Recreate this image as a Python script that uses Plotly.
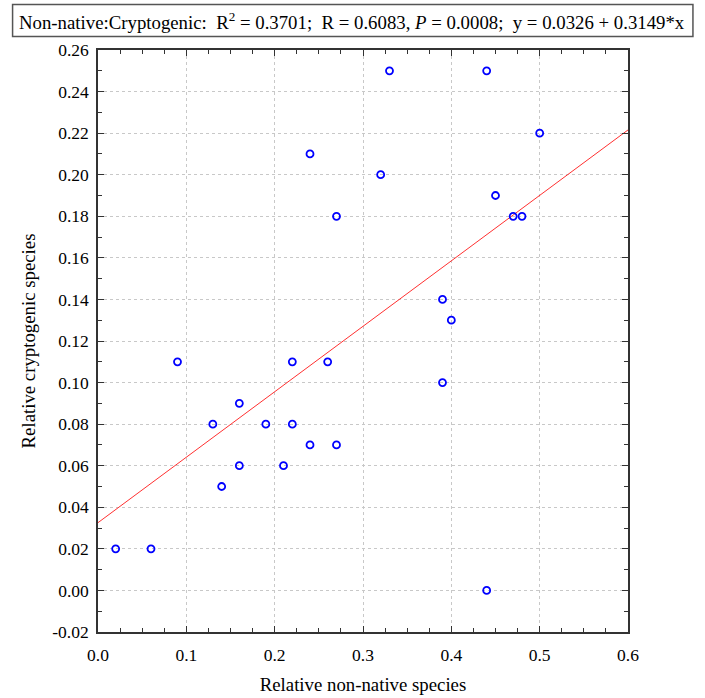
import plotly.graph_objects as go

# Relative species proportions per site
non_native = [0.02, 0.06, 0.09, 0.13, 0.14, 0.16, 0.16, 0.19, 0.21, 0.22, 0.22, 0.24, 0.24, 0.26,
              0.27, 0.27, 0.32, 0.33, 0.39, 0.39, 0.40, 0.44, 0.44, 0.45, 0.47, 0.48, 0.50]
cryptogenic = [0.02, 0.02, 0.11, 0.08, 0.05, 0.09, 0.06, 0.08, 0.06, 0.11, 0.08, 0.07, 0.21, 0.11,
               0.18, 0.07, 0.20, 0.25, 0.14, 0.10, 0.13, 0.25, 0.00, 0.19, 0.18, 0.18, 0.22]

# Fitted regression
intercept = 0.0326
slope = 0.3149
fit_x = [0.0, 0.6]
fit_y = [intercept + slope * v for v in fit_x]

x_ticks = [0.0, 0.1, 0.2, 0.3, 0.4, 0.5, 0.6]
x_labels = ["0.0", "0.1", "0.2", "0.3", "0.4", "0.5", "0.6"]
y_ticks = [-0.02, 0.0, 0.02, 0.04, 0.06, 0.08, 0.10, 0.12, 0.14, 0.16, 0.18, 0.20, 0.22, 0.24, 0.26]
y_labels = ["%.2f" % v for v in y_ticks]

font_family = "Liberation Serif, Times New Roman, serif"

# plot-area geometry in pixels
L, R, T, B = 97.5, 628.0, 49.5, 632.5
W, H = R - L, B - T


def px_x(v):
    return (v - L) / W


def px_y(v):
    return (B - v) / H


fig = go.Figure()
fig.add_trace(go.Scatter(
    x=fit_x, y=fit_y, mode="lines",
    line=dict(color="#ff3030", width=1),
    hoverinfo="skip", showlegend=False,
))
fig.add_trace(go.Scatter(
    x=non_native, y=cryptogenic, mode="markers",
    marker=dict(symbol="circle-open", size=7, color="#0000ff", line=dict(width=1.8)),
    showlegend=False,
))

axis_common = dict(
    showline=True, linecolor="#333333", linewidth=1.5, mirror="ticks",
    ticks="inside", ticklen=6, tickcolor="#333333", tickwidth=1,
    showgrid=True, gridcolor="#c8c8c8", griddash="dot", gridwidth=1,
    zeroline=False, automargin=False,
    tickfont=dict(family=font_family, size=17.5, color="#000000"),
)

fig.update_xaxes(
    range=[0, 0.6], tickvals=x_ticks, ticktext=x_labels, ticklabelstandoff=6,
    minor=dict(dtick=0.025, ticks="inside", ticklen=4, tickcolor="#333333", showgrid=False),
    title=dict(text="Relative non-native species", font=dict(family=font_family, size=18.8, color="#000000"), standoff=14),
    **axis_common,
)
fig.update_yaxes(
    range=[-0.02, 0.26], tickvals=y_ticks, ticktext=y_labels, ticklabelstandoff=4,
    minor=dict(dtick=0.01, ticks="inside", ticklen=4, tickcolor="#333333", showgrid=False),
    title=dict(text="Relative cryptogenic species", font=dict(family=font_family, size=18.8, color="#000000"), standoff=12),
    **axis_common,
)

# Boxed statistics header
fig.add_shape(type="rect", xref="paper", yref="paper",
              x0=px_x(12), x1=px_x(693), y0=px_y(36), y1=px_y(4),
              line=dict(color="#555555", width=1.5), fillcolor="white", layer="above")
fig.add_annotation(
    xref="paper", yref="paper",
    x=px_x(352), y=px_y(20),
    xanchor="center", yanchor="middle", showarrow=False,
    text="Non-native:Cryptogenic:  R<sup>2</sup> = 0.3701;  R = 0.6083, <i>P</i> = 0.0008;  y = 0.0326 + 0.3149*x",
    font=dict(family=font_family, size=18.8, color="#000000"),
)

fig.update_layout(
    width=705, height=698,
    margin=dict(l=L, r=705 - R, t=T, b=698 - B),
    paper_bgcolor="white", plot_bgcolor="white",
)

fig.write_html("out.html")
